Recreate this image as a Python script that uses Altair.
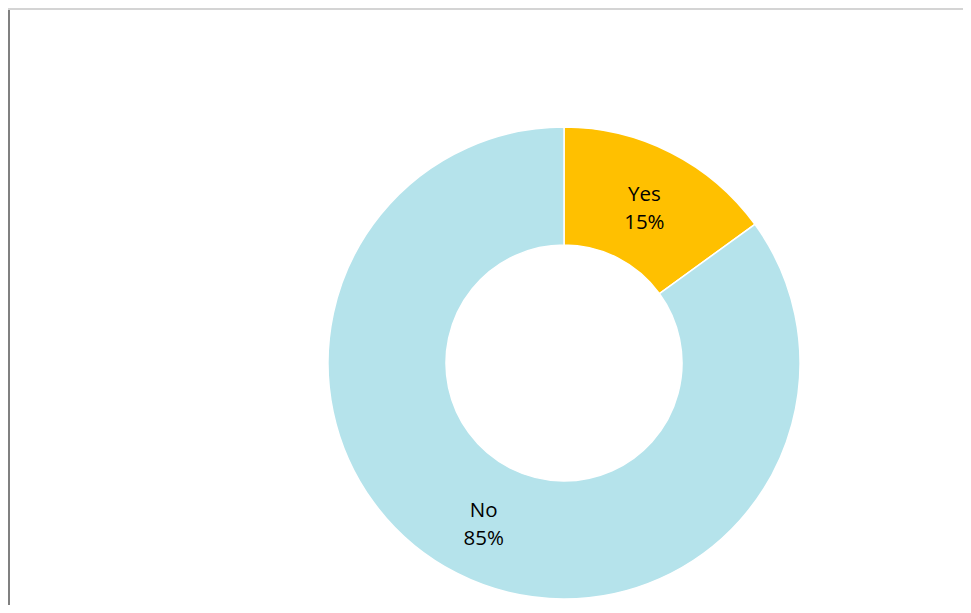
import altair as alt
import pandas as pd

categories = ["Yes", "No"]
values = [15, 85]
labels = ["Yes\n15%", "No\n85%"]
colors = ["#FFC000", "#B5E3EB"]

df = pd.DataFrame({
    "category": categories,
    "value": values,
    "label": labels,
    "idx": list(range(len(categories))),
})

W, H = 955, 597
CX, CY = 556, 355

base = alt.Chart(df).encode(
    theta=alt.Theta("value:Q", stack=True),
    order=alt.Order("idx:Q"),
    x=alt.value(CX),
    y=alt.value(CY),
)

arcs = base.mark_arc(outerRadius=236, innerRadius=118, stroke="white", strokeWidth=1.5).encode(
    color=alt.Color("category:N", scale=alt.Scale(domain=categories, range=colors), legend=None)
)

text = base.mark_text(
    radius=177, font="Open Sans", fontSize=20.5, color="black",
    lineBreak="\n", lineHeight=28, align="center", baseline="middle", dy=-10
).encode(text="label:N")

frame = pd.DataFrame({"a": [0]})
left_line = alt.Chart(frame).mark_rule(color="#808080", strokeWidth=2).encode(
    x=alt.value(1), y=alt.value(0), y2=alt.value(H)
)
top_line = alt.Chart(frame).mark_rule(color="#d4d4d4", strokeWidth=2).encode(
    x=alt.value(0), x2=alt.value(W), y=alt.value(1)
)

chart = alt.layer(arcs, text, left_line, top_line).properties(
    width=W, height=H, padding=0, autosize=alt.AutoSizeParams(type="none")
).configure_view(stroke=None).configure(background="white")

chart.save("out.html", embed_options={"renderer": "svg", "actions": False})
